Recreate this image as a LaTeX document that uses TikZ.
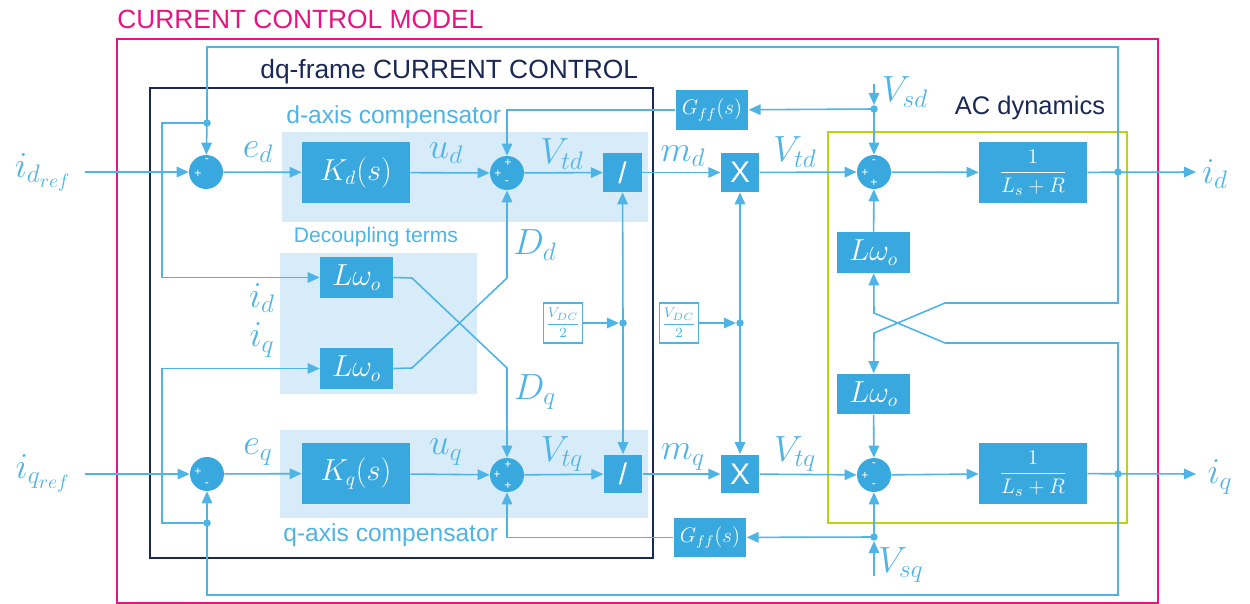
\documentclass[tikz,border=0pt]{standalone}
\usepackage{fontspec}
\setmainfont{Liberation Sans}
\usetikzlibrary{arrows.meta}
\definecolor{boxblue}{RGB}{56,168,222}
\definecolor{lineblue}{RGB}{78,180,230}
\definecolor{lightbg}{RGB}{215,236,248}
\definecolor{pinkc}{RGB}{230,20,130}
\definecolor{navyc}{RGB}{25,40,85}
\definecolor{ygreen}{RGB}{190,210,20}
\begin{document}
\begin{tikzpicture}[x=0.02cm,y=-0.02cm,
  ln/.style={draw=lineblue, line width=0.9pt},
  arr/.style={ln, -{Triangle[length=2.4mm,width=2.1mm]}},
  blk/.style={rectangle, fill=boxblue, text=white, inner sep=0pt},
  bigblk/.style={blk, minimum width=2.16cm, minimum height=1.22cm, font=\fontsize{16}{18}\selectfont},
  lwblk/.style={blk, minimum width=1.46cm, minimum height=0.82cm, font=\fontsize{16}{18}\selectfont},
  smblk/.style={blk, minimum width=0.77cm, minimum height=0.78cm, font=\fontsize{17}{19}\selectfont},
  gblk/.style={blk, minimum width=1.45cm, minimum height=0.8cm, font=\fontsize{11.5}{13}\selectfont},
  vdc/.style={rectangle, draw=lineblue, line width=0.8pt, fill=white, text=lineblue, minimum width=0.78cm, minimum height=0.8cm, inner sep=0pt, font=\fontsize{8.5}{10}\selectfont},
  sumn/.style={circle, fill=boxblue, minimum size=0.68cm, inner sep=0pt},
  dotn/.style={circle, fill=lineblue, minimum size=0.15cm, inner sep=0pt},
  sgn/.style={text=white, inner sep=0pt, font=\fontsize{7}{7}\selectfont},
  mlab/.style={text=lineblue, inner sep=0pt, font=\fontsize{20}{22}\selectfont},
  ttl/.style={inner sep=0pt, anchor=west, font=\fontsize{15}{17}\selectfont},
  sub/.style={inner sep=0pt, text=lineblue, font=\fontsize{14}{16}\selectfont}
]
\useasboundingbox (0,0) rectangle (1250,604);

% backgrounds
\fill[lightbg] (282,132) rectangle (648,222);
\fill[lightbg] (280,430) rectangle (648,518);
\fill[lightbg] (280,253) rectangle (477,394);

% frames
\draw[pinkc, line width=1.2pt] (117,39) rectangle (1158,603);
\draw[navyc, line width=1.4pt] (150,88) rectangle (653,558);
\draw[ygreen, line width=1.5pt] (828,132) rectangle (1127,523);

% titles
\node[ttl, text=pinkc] (t1) at (117,19) {CURRENT CONTROL MODEL};
\node[ttl, text=navyc] (t2) at (260,72) {dq-frame CURRENT CONTROL};
\node[sub, anchor=west] (t3) at (286,117) {d-axis compensator};
\node[sub, font=\fontsize{12}{14}\selectfont] (t4) at (376,237) {Decoupling terms};
\node[sub, anchor=west] (t5) at (283,535) {q-axis compensator};
\node[inner sep=0pt, text=navyc, font=\fontsize{14.5}{16}\selectfont] (t6) at (1030,108) {AC dynamics};

% summing junctions
\node[sumn] (sd) at (206,172) {};
\node[sumn] (sq) at (207,474) {};
\node[sumn] (s2) at (507,173) {};
\node[sumn] (s5) at (507,475) {};
\node[sumn] (s3) at (874,172) {};
\node[sumn] (s4) at (874,475) {};

% signs
\node[sgn] at (198,174) {+}; \node[sgn] at (207,161) {-};
\node[sgn] at (198,472) {+}; \node[sgn] at (207,485) {-};
\node[sgn] at (508,163) {+}; \node[sgn] at (498,174) {+}; \node[sgn] at (507,183) {-};
\node[sgn] at (508,465) {+}; \node[sgn] at (497,475) {+}; \node[sgn] at (508,486) {+};
\node[sgn] at (874,162) {-}; \node[sgn] at (865,173) {+}; \node[sgn] at (874,183) {+};
\node[sgn] at (874,465) {-}; \node[sgn] at (865,476) {+}; \node[sgn] at (874,486) {-};

% blocks
\node[bigblk] (Kd) at (356,172.5) {$K_d(s)$};
\node[bigblk] (Kq) at (356,473.5) {$K_q(s)$};
\node[smblk] (divd) at (622.5,172.5) {/};
\node[smblk] (divq) at (623,474) {/};
\node[smblk] (Xd) at (740,172.5) {X};
\node[smblk] (Xq) at (740,474) {X};
\node[gblk] (Gd) at (712,110) {$G_{ff}(s)$};
\node[gblk] (Gq) at (710,537.5) {$G_{ff}(s)$};
\node[bigblk, font=\fontsize{12.5}{14}\selectfont] (ACd) at (1033,172.5) {$\displaystyle\frac{1}{L_s+R}$};
\node[bigblk, font=\fontsize{12.5}{14}\selectfont] (ACq) at (1033,473.5) {$\displaystyle\frac{1}{L_s+R}$};
\node[lwblk] (DLt) at (356.5,277.5) {$L\omega_o$};
\node[lwblk] (DLb) at (356.5,368.5) {$L\omega_o$};
\node[lwblk] (ALt) at (873.5,252.5) {$L\omega_o$};
\node[lwblk] (ALb) at (873.5,394) {$L\omega_o$};
\node[vdc] (V1) at (563,323) {$\displaystyle\frac{V_{DC}}{2}$};
\node[vdc] (V2) at (679,323) {$\displaystyle\frac{V_{DC}}{2}$};

% dots
\node[dotn] (dtop) at (207,123) {};
\node[dotn] (dbot) at (207,523) {};
\node[dotn] (jd) at (1118,172) {};
\node[dotn] (jq) at (1118,474) {};
\node[dotn] (vsd) at (874,109) {};
\node[dotn] (vsq) at (874,537) {};
\node[dotn] (dv1) at (623,323) {};
\node[dotn] (dv2) at (740,323) {};

% inputs / outputs
\coordinate (ind) at (85,172);
\coordinate (inq) at (85,474);
\coordinate (outd) at (1196,172);
\coordinate (outq) at (1196,474);
\coordinate (vsdin) at (874,84);
\coordinate (vsqin) at (874,576);
\node[mlab, font=\fontsize{21}{23}\selectfont] (lidr) at (43,172) {$i_{d_{ref}}$};
\node[mlab, font=\fontsize{21}{23}\selectfont] (liqr) at (43,473) {$i_{q_{ref}}$};
\node[mlab, font=\fontsize{21}{23}\selectfont] (lid) at (1215,174) {$i_d$};
\node[mlab, font=\fontsize{21}{23}\selectfont] (liq) at (1220,477) {$i_q$};

% forward paths
\draw[arr] (ind) -- (sd);
\draw[arr] (sd) -- (Kd);
\draw[arr] (Kd) -- (s2);
\draw[arr] (s2) -- (divd);
\draw[arr] (divd) -- (Xd);
\draw[arr] (Xd) -- (s3);
\draw[arr] (s3) -- (ACd);
\draw[arr] (ACd) -- (outd);

\draw[arr] (inq) -- (sq);
\draw[arr] (sq) -- (Kq);
\draw[arr] (Kq) -- (s5);
\draw[arr] (s5) -- (divq);
\draw[arr] (divq) -- (Xq);
\draw[arr] (Xq) -- (s4);
\draw[arr] (s4) -- (ACq);
\draw[arr] (ACq) -- (outq);

% feedback loops
\draw[ln] (jd.center) -- (1118,47) -- (207,47) -- (dtop.center);
\draw[arr] (dtop.center) -- (sd);
\draw[arr] (dtop.center) -- (162,123) -- (162,277.5) -- (DLt);
\draw[ln] (jq.center) -- (1118,595) -- (207,595) -- (dbot.center);
\draw[arr] (dbot.center) -- (sq);
\draw[arr] (dbot.center) -- (162,523) -- (162,368.5) -- (DLb);

% decoupling cross
\draw[arr] (DLt.east) -- (412,278) -- (507,368) -- (s5);
\draw[arr] (DLb.east) -- (412,368) -- (507,278) -- (s2);

% grid voltage feed-forward
\draw[arr] (vsdin) -- (vsd.north);
\draw[arr] (vsd.center) -- (s3);
\draw[arr] (vsd.center) -- (Gd);
\draw[arr] (Gd.west) -- (507,110) -- (s2);
\draw[arr] (vsqin) -- (vsq.south);
\draw[arr] (vsq.center) -- (s4);
\draw[arr] (vsq.center) -- (Gq);
\draw[arr] (Gq.west) -- (507,537.5) -- (s5);

% DC link
\draw[arr] (V1) -- (dv1);
\draw[arr] (dv1.center) -- (divd);
\draw[arr] (dv1.center) -- (divq);
\draw[arr] (V2) -- (dv2);
\draw[arr] (dv2.center) -- (Xd);
\draw[arr] (dv2.center) -- (Xq);

% AC dynamics coupling
\draw[arr] (ALt) -- (s3);
\draw[arr] (ALb) -- (s4);
\draw[arr] (jq.center) -- (1118,343) -- (945,343) -- (874,313) -- (ALt);
\draw[arr] (jd.center) -- (1118,303) -- (945,303) -- (874,333) -- (ALb);

% signal labels
\node[mlab] (led) at (258,152) {$e_d$};
\node[mlab] (lud) at (446,153) {$u_d$};
\node[mlab] (lvtd) at (562,154) {$V_{td}$};
\node[mlab] (lmd) at (683,156) {$m_d$};
\node[mlab] (lvtd2) at (795,152) {$V_{td}$};
\node[mlab] (leq) at (258,452) {$e_q$};
\node[mlab] (luq) at (446,452) {$u_q$};
\node[mlab] (lvtq) at (562,454) {$V_{tq}$};
\node[mlab] (lmq) at (683,457) {$m_q$};
\node[mlab] (lvtq2) at (795,454) {$V_{tq}$};
\node[mlab] (ldd) at (535,245) {$D_d$};
\node[mlab] (ldq) at (535,392) {$D_q$};
\node[mlab] (lid2) at (262,298) {$i_d$};
\node[mlab] (liq2) at (262,340) {$i_q$};
\node[mlab] (lvsd) at (905,92) {$V_{sd}$};
\node[mlab] (lvsq) at (901,565) {$V_{sq}$};
\end{tikzpicture}
\end{document}
